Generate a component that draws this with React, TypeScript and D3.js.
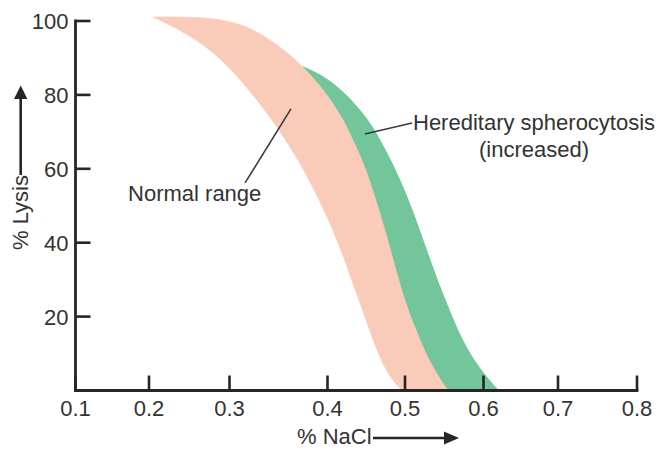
import React from "react";
import * as d3 from "d3";

// Axis ticks
const xTickValues = [0.1, 0.2, 0.3, 0.4, 0.5, 0.6, 0.7, 0.8];
const yTickValues = [20, 40, 60, 80, 100];

// Band edges as [% NaCl, % lysis]
// Left (low-NaCl) edge of the normal range
const normalLowerEdge: [number, number][] = [
  [0.205, 101.1], [0.2385, 97.6], [0.272, 93.0], [0.2994, 87.6], [0.3199, 81.3],
  [0.3362, 75.9], [0.3505, 70.5], [0.3638, 65.1], [0.376, 59.7], [0.3862, 54.3],
  [0.3964, 48.9], [0.4084, 42.6], [0.42, 36.7], [0.4303, 30.4], [0.4406, 24.5],
  [0.4497, 19.1], [0.4587, 13.7], [0.469, 8.25], [0.4794, 4.2], [0.4884, 1.5],
  [0.4974, 0],
];
// Right edge of the normal range (= left edge of the spherocytosis band)
const normalUpperEdge: [number, number][] = [
  [0.205, 101.1], [0.2509, 101.1], [0.282, 100.7], [0.3107, 99.2], [0.3291, 97.0],
  [0.3444, 94.3], [0.3607, 91.1], [0.375, 87.55], [0.3883, 83.8], [0.3995, 80.0],
  [0.411, 76.45], [0.4213, 72.9], [0.4316, 68.3], [0.4406, 64.3], [0.4497, 59.7],
  [0.4574, 54.8], [0.4652, 49.7], [0.4729, 44.25], [0.4806, 38.6], [0.4884, 32.6],
  [0.4961, 26.7], [0.5064, 20.4], [0.514, 16.4], [0.5217, 12.3], [0.5306, 8.25],
  [0.5395, 5.0], [0.5471, 2.3], [0.5548, 0],
];
// Right edge of the hereditary spherocytosis band
const spherocytosisEdge: [number, number][] = [
  [0.375, 87.55], [0.3862, 86.2], [0.3974, 84.6], [0.411, 82.4], [0.4252, 79.7],
  [0.4394, 76.45], [0.4535, 72.7], [0.4639, 69.15], [0.4742, 65.1], [0.4845, 61.0],
  [0.4987, 54.3], [0.5089, 48.85], [0.5191, 42.9], [0.5293, 36.7], [0.5408, 29.9],
  [0.551, 24.5], [0.5611, 19.1], [0.5726, 13.7], [0.5841, 9.3], [0.5955, 5.8],
  [0.6074, 2.8], [0.6141, 1.2], [0.6195, 0],
];

// Annotation anchors in data units
const normalLeader: [number, number][] = [[0.3627, 76.2], [0.3159, 56.2]];
const normalLabelPos: [number, number] = [0.1715, 51.3];
const hsLeader: [number, number][] = [[0.4483, 69.4], [0.5089, 72.4]];
const hsLabelPos: [number, number] = [0.5102, 70.5];
const hsSubLabelPos: [number, number] = [0.6678, 63.2];

export default function App() {
  const W = 658;
  const H = 449;
  const font = "'Liberation Sans', Arial, Helvetica, sans-serif";
  const ink = "#262626";
  const textInk = "#333";

  // hand-drawn axis: ticks are not evenly spaced
  const x = d3
    .scaleLinear()
    .domain(xTickValues)
    .range([75.5, 149, 229.5, 327.5, 405, 483.5, 558, 637]);
  const y = d3.scaleLinear().domain([0, 100]).range([390.5, 21]);

  const line = d3
    .line<[number, number]>()
    .x((d) => x(d[0]))
    .y((d) => y(d[1]))
    .curve(d3.curveBasis);

  const band = (a: [number, number][], b: [number, number][]) =>
    (line(a) as string) +
    (line(b.slice().reverse()) as string).replace(/^M/, "L") +
    "Z";

  const pinkPath = band(normalLowerEdge, normalUpperEdge);
  const greenStart = spherocytosisEdge[0][0];
  const sharedPart = normalUpperEdge.filter((d) => d[0] >= greenStart);
  const greenPath = band(spherocytosisEdge, sharedPart);

  const pink = "#FACBB8";
  const green = "#72C69A";

  const x0 = x(xTickValues[0]);
  const x1 = x(xTickValues[xTickValues.length - 1]);
  const yBase = y(0);
  const yTop = y(100);
  const tickLen = 15;

  return (
    <svg
      width={W}
      height={H}
      style={{ position: "absolute", left: 0, top: 0, background: "#fff" }}
      fontFamily={font}
    >
      <rect x={0} y={0} width={W} height={H} fill="#fff" />
      {/* bands: green first, pink on top so the shared edge is seamless */}
      <path d={greenPath} fill={green} stroke={green} strokeWidth={1.2} />
      <path d={pinkPath} fill={pink} stroke={pink} strokeWidth={0.6} />

      {/* leader lines */}
      <line
        x1={x(normalLeader[0][0])}
        y1={y(normalLeader[0][1])}
        x2={x(normalLeader[1][0])}
        y2={y(normalLeader[1][1])}
        stroke="#3a3a3a"
        strokeWidth={1.6}
      />
      <line
        x1={x(hsLeader[0][0])}
        y1={y(hsLeader[0][1])}
        x2={x(hsLeader[1][0])}
        y2={y(hsLeader[1][1])}
        stroke="#3a3a3a"
        strokeWidth={1.6}
      />

      {/* axes */}
      <line x1={x0} y1={yTop} x2={x0} y2={yBase} stroke={ink} strokeWidth={2.8} strokeLinecap="square" />
      <line x1={x0} y1={yBase} x2={x1} y2={yBase} stroke={ink} strokeWidth={2.8} strokeLinecap="square" />
      {yTickValues.map((v) => (
        <g key={"y" + v}>
          <line x1={x0} x2={x0 + tickLen} y1={y(v)} y2={y(v)} stroke={ink} strokeWidth={2.6} />
          <text x={x0 - 7} y={y(v) + 8} textAnchor="end" fontSize={22} fill={textInk}>
            {v}
          </text>
        </g>
      ))}
      {xTickValues.map((v) => (
        <g key={"x" + v}>
          <line x1={x(v)} x2={x(v)} y1={yBase} y2={yBase - tickLen} stroke={ink} strokeWidth={2.6} />
          <text x={x(v)} y={416} textAnchor="middle" fontSize={22} fill={textInk}>
            {d3.format(".1f")(v)}
          </text>
        </g>
      ))}

      {/* x title with arrow */}
      <text x={297} y={444} fontSize={22} fill={textInk}>
        % NaCl
      </text>
      <line x1={373} y1={438} x2={447} y2={438} stroke={ink} strokeWidth={2.6} />
      <polygon points="459,438 444,431.5 444,444.5" fill={ink} />

      {/* y title with arrow */}
      <text
        transform="translate(28,212.5) rotate(-90)"
        textAnchor="middle"
        fontSize={22}
        fill={textInk}
      >
        % Lysis
      </text>
      <line x1={20.7} y1={175} x2={20.7} y2={97} stroke={ink} strokeWidth={2.6} />
      <polygon points="20.7,85.5 14,99 27.4,99" fill={ink} />

      {/* annotations */}
      <text x={x(normalLabelPos[0])} y={y(normalLabelPos[1])} fontSize={22} fill={textInk}>
        Normal range
      </text>
      <text x={x(hsLabelPos[0])} y={y(hsLabelPos[1])} fontSize={22} fill={textInk}>
        Hereditary spherocytosis
      </text>
      <text
        x={x(hsSubLabelPos[0])}
        y={y(hsSubLabelPos[1])}
        textAnchor="middle"
        fontSize={22}
        fill={textInk}
      >
        (increased)
      </text>
    </svg>
  );
}
